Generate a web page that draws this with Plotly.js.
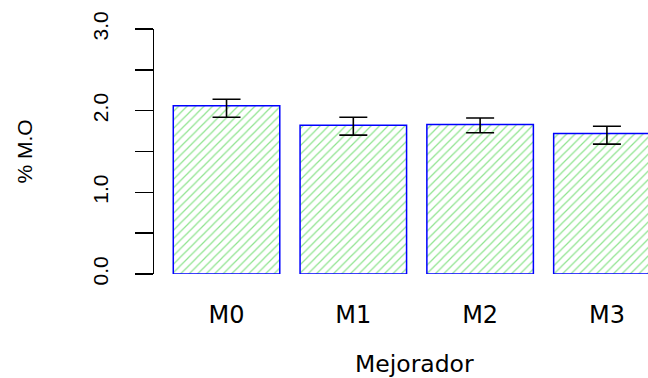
<!DOCTYPE html>
<html>
<head>
<meta charset="utf-8">
<script src="https://cdn.plot.ly/plotly-3.0.1.min.js"></script>
<style>html,body{margin:0;padding:0;background:#fff;}</style>
</head>
<body>
<div id="chart" style="width:648px;height:378px;"></div>
<script>
var categories = ["M0", "M1", "M2", "M3"];
var values = [2.06, 1.82, 1.83, 1.72];
var errPlus = [0.08, 0.10, 0.08, 0.09];
var errMinus = [0.14, 0.12, 0.10, 0.13];
var yTickVals = [0, 1, 2, 3];
var yTickText = ["0.0", "1.0", "2.0", "3.0"];
var xTitle = "Mejorador";
var yTitle = "% M.O";

var trace = {
  type: "bar",
  x: categories,
  y: values,
  width: 0.84,
  marker: {
    color: "#ffffff",
    line: {color: "#0000ff", width: 1.5},
    pattern: {shape: "/", fgcolor: "#8fe48f", bgcolor: "#ffffff", size: 6, solidity: 0.2}
  },
  error_y: {
    type: "data",
    symmetric: false,
    array: errPlus,
    arrayminus: errMinus,
    color: "#000000",
    thickness: 1.6,
    width: 14
  },
  hoverinfo: "skip"
};

var layout = {
  width: 648,
  height: 378,
  margin: {l: 154, r: 0, t: 29, b: 104, pad: 0},
  paper_bgcolor: "#ffffff",
  plot_bgcolor: "#ffffff",
  showlegend: false,
  font: {family: "Liberation Sans, Arial, sans-serif", color: "#000000"},
  xaxis: {
    type: "category",
    range: [-0.572, 3.324],
    showline: false,
    showgrid: false,
    zeroline: false,
    ticks: "",
    tickfont: {family: "DejaVu Sans, sans-serif", size: 24, color: "#000000"},
    ticklabelstandoff: 24
  },
  yaxis: {
    range: [0, 3],
    showline: true,
    linecolor: "#000000",
    linewidth: 1.5,
    showgrid: false,
    zeroline: false,
    ticks: "outside",
    ticklen: 18,
    tickwidth: 1.5,
    tickcolor: "#000000",
    tickmode: "array",
    tickvals: yTickVals,
    ticktext: yTickText,
    tickangle: -90,
    tickfont: {size: 21, color: "#000000"},
    ticklabelstandoff: 18,
    minor: {dtick: 0.5, tick0: 0, ticks: "outside", ticklen: 18, tickwidth: 1.5, tickcolor: "#000000", showgrid: false},
    title: {text: yTitle, font: {size: 21, color: "#000000"}, standoff: 50}
  },
  annotations: [{
    text: xTitle,
    xref: "paper", yref: "paper",
    x: 0.528, y: -0.366,
    xanchor: "center", yanchor: "middle",
    showarrow: false,
    font: {family: "DejaVu Sans, sans-serif", size: 23.5, color: "#000000"}
  }]
};

Plotly.newPlot("chart", [trace], layout, {staticPlot: true, displayModeBar: false});
</script>
</body>
</html>
